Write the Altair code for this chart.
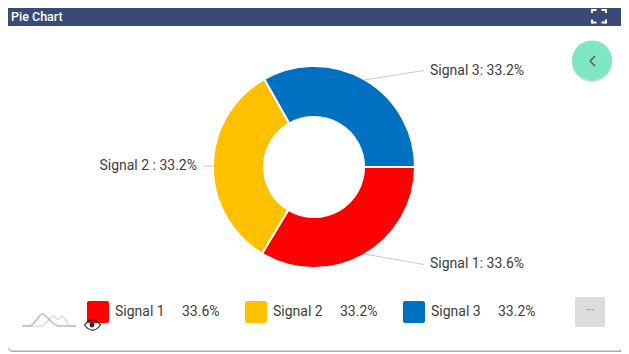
import math
import altair as alt
import pandas as pd

signals = ["Signal 1", "Signal 2", "Signal 3"]
shares = [33.6, 33.2, 33.2]
colors = ["#ff0000", "#ffc000", "#0070c0"]
callouts = ["Signal 1: 33.6%", "Signal 2 : 33.2%", "Signal 3: 33.2%"]
share_labels = ["33.6%", "33.2%", "33.2%"]
title_text = "Pie Chart"
spark_x = [0, 8, 14, 20, 24, 28, 32, 36, 40, 44, 48, 54]
spark_a = [0, 0, 5, 11, 9, 5, 2, 0, 0, 0, 0, 0]
spark_b = [0, 0, 0, 0, 3, 7, 9, 6, 9, 5, 0, 0]

# The page margin puts the chart's origin at (8, 8) of the window.
M = 8
W, H = 613, 346
FONT = "Roboto"
TEXT = "#3c3c3c"
one = pd.DataFrame({"k": [0]})


def X(v):
    return alt.value(max(v - M, 0))


def Y(v):
    return alt.value(max(v - M, 0))


def box(x, x2, y, y2, color, radius=0, **kw):
    return alt.Chart(one).mark_rect(color=color, cornerRadius=radius, **kw).encode(
        x=X(x), x2=X(x2), y=Y(y), y2=Y(y2))


def label(txt, x, y, size=14, color=TEXT, align="left", **kw):
    return alt.Chart(pd.DataFrame({"t": [txt]})).mark_text(
        font=FONT, fontSize=size, color=color, align=align, baseline="middle", **kw
    ).encode(text="t:N", x=X(x), y=Y(y))


def seg(x, y, x2, y2, color="#c8c8c8", width=1):
    return alt.Chart(one).mark_rule(color=color, strokeWidth=width).encode(
        x=X(x), y=Y(y), x2=X(x2), y2=Y(y2))


layers = [
    box(0, 629, 0, 354, "#ffffff"),
    box(0, 625, 300, 352, "#a9a9a9", 5),
    box(0, 623.5, 0, 350.5, "#ffffff", 5),
    box(0, 624, 0, 26, "#394a76"),
    label(title_text, 11, 17, size=12.5, color="#ffffff", fontWeight=500),
]

# expand icon in the header
for a, b, c, d in [(592, 10, 596.5, 10), (592, 9, 592, 13), (606, 10, 601.5, 10), (606, 9, 606, 13),
                   (592, 22.5, 596.5, 22.5), (592, 23.5, 592, 19.5), (606, 22.5, 601.5, 22.5), (606, 23.5, 606, 19.5)]:
    layers.append(seg(a, b, c, d, "#ffffff", 2))

# back button
layers += [
    alt.Chart(one).mark_circle(color="#000000", opacity=0.13, size=1640).encode(x=X(592), y=Y(62)),
    alt.Chart(one).mark_circle(color="#7fe5c4", opacity=1, size=1600).encode(x=X(592), y=Y(60.5)),
    seg(595, 56, 590, 61, "#5a5f66", 1.6),
    seg(590, 61, 595, 66, "#5a5f66", 1.6),
]

# donut
pie = pd.DataFrame({"signal": signals, "share": shares, "order": [0, 1, 2]})
layers.append(
    alt.Chart(pie).mark_arc(outerRadius=101, innerRadius=50, stroke="#ffffff", strokeWidth=2).encode(
        theta=alt.Theta("share:Q", stack=True, scale=alt.Scale(domain=[0, 100], range=[math.pi / 2, math.pi / 2 + 2 * math.pi])),
        order=alt.Order("order:Q"),
        color=alt.Color("signal:N", scale=alt.Scale(domain=signals, range=colors), legend=None),
        x=X(314),
        y=Y(167),
    )
)

# leader lines and callouts
layers += [
    seg(364, 254, 424, 264.5), seg(203, 166, 214, 166), seg(364, 80, 424, 70.5),
    label(callouts[0], 430, 263.5),
    label(callouts[1], 197, 166, align="right"),
    label(callouts[2], 430, 70.5),
]

# sparkline icon
spark = pd.DataFrame({"x": spark_x, "a": spark_a, "b": spark_b})
sx = alt.Scale(domain=[0, 54], range=[22 - M, 76 - M])
sy = alt.Scale(domain=[0, 11], range=[326 - M, 314 - M])
layers += [
    alt.Chart(spark).mark_line(color="#dcdcdc", strokeWidth=1.5, interpolate="monotone").encode(
        x=alt.X("x:Q", scale=sx, axis=None), y=alt.Y("b:Q", scale=sy, axis=None)),
    alt.Chart(spark).mark_line(color="#bdbdbd", strokeWidth=1.5, interpolate="monotone").encode(
        x=alt.X("x:Q", scale=sx, axis=None), y=alt.Y("a:Q", scale=sy, axis=None)),
]

# legend row
for i, (s, c, p) in enumerate(zip(signals, colors, share_labels)):
    off = [87, 245, 403][i]
    layers += [
        box(off, off + 22, 301, 323, c, 2),
        label(s, off + 28, 311.5),
        label(p, off + 95, 311.5),
    ]

# eye icon over the first swatch
layers += [
    alt.Chart(one).mark_point(
        shape="M -1 0 Q 0 -1.3 1 0 Q 0 1.3 -1 0 Z", size=256, filled=False,
        color="#222222", strokeWidth=1.2, opacity=1,
    ).encode(x=X(92.5), y=Y(325)),
    alt.Chart(one).mark_circle(color="#222222", size=24, opacity=1).encode(x=X(92), y=Y(325)),
]

# more button
layers += [
    box(575, 605, 297, 327, "#dcdcdc", 2),
    label("···", 590, 310.5, size=11, color="#666666", align="center"),
]

chart = alt.layer(*layers).properties(
    width=W, height=H, padding=0, autosize=alt.AutoSizeParams(type="none"),
).resolve_scale(x="shared", y="shared").configure_view(stroke=None)

chart.save("out.html", embed_options={"renderer": "svg", "actions": False})
